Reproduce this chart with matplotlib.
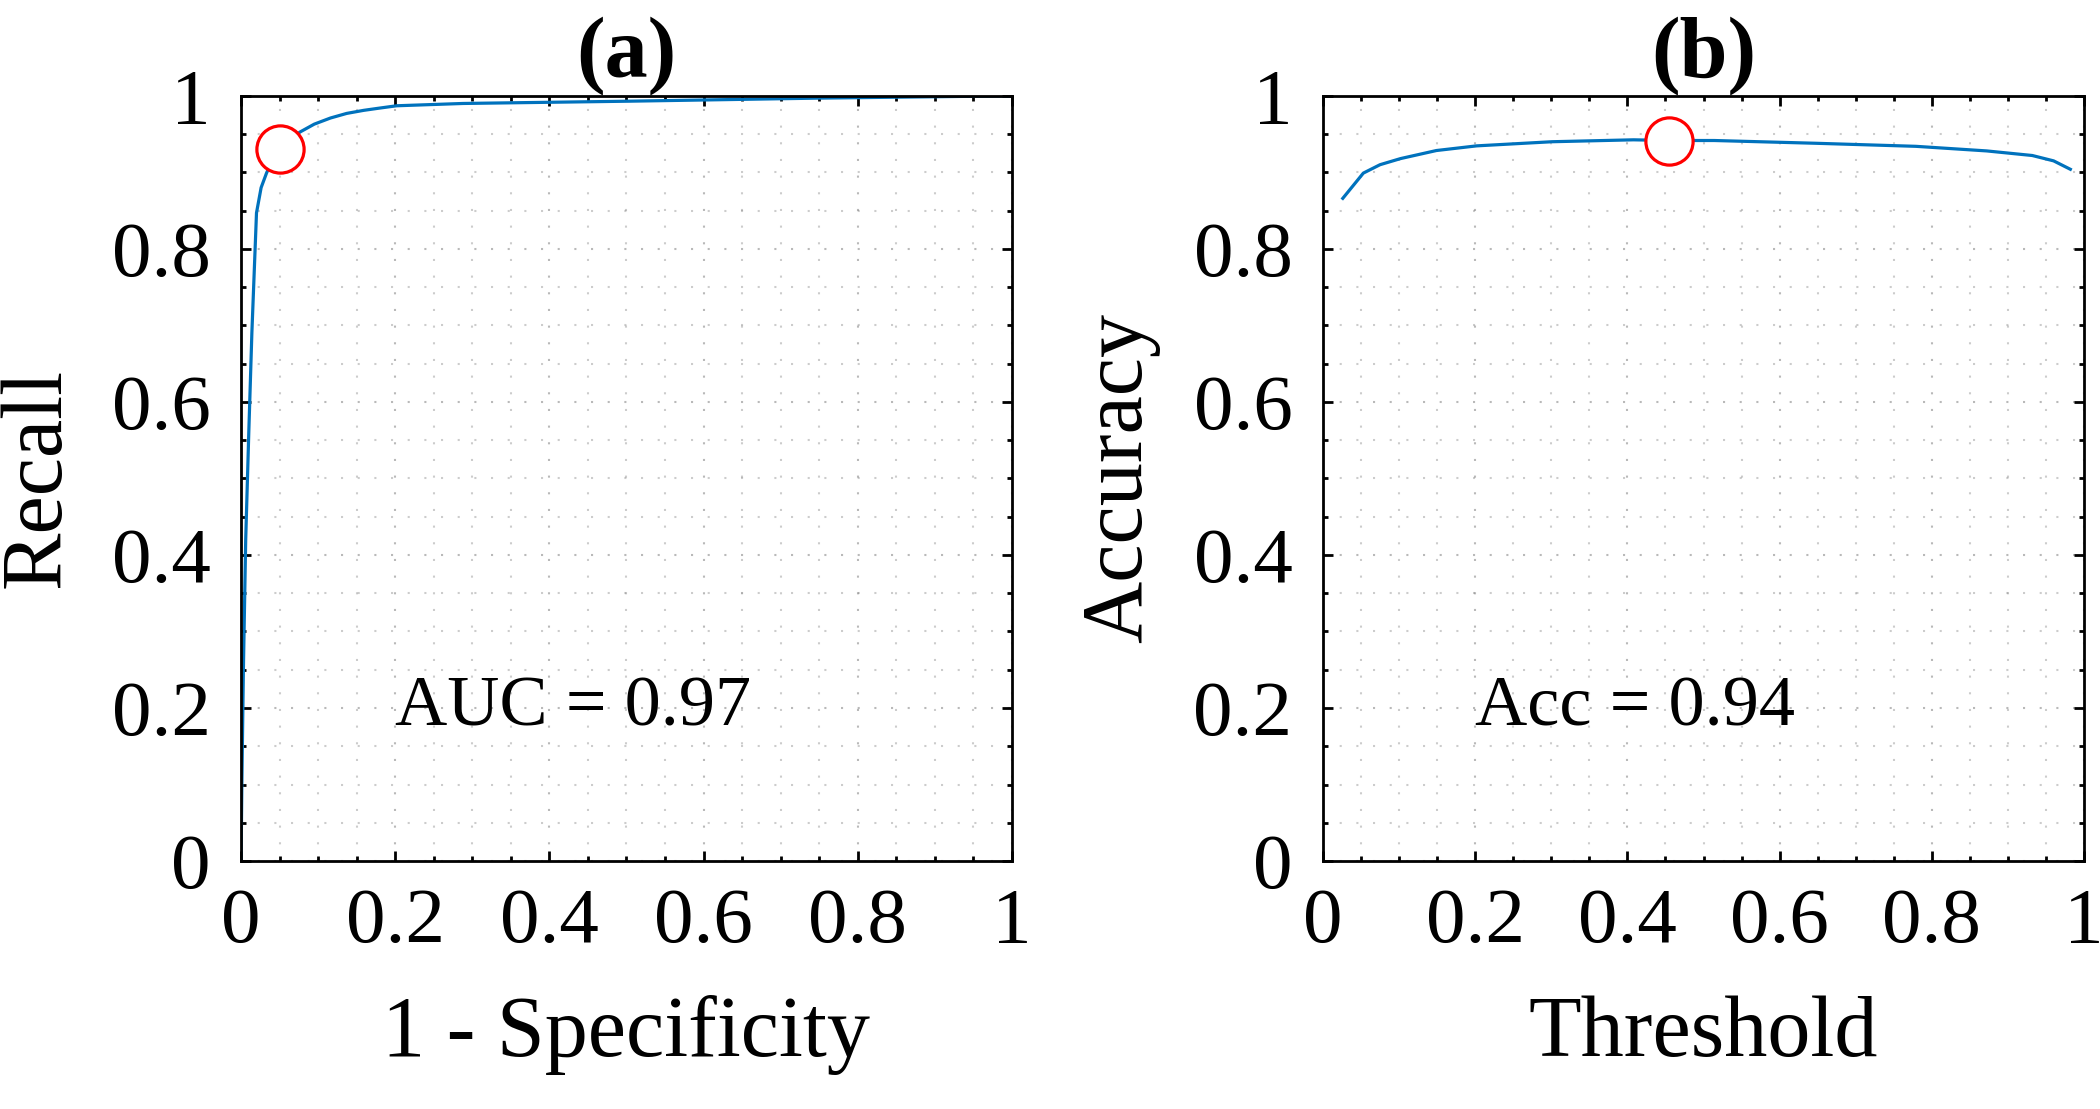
import matplotlib.pyplot as plt
import numpy as np

plt.rcParams['font.family'] = ['Liberation Serif', 'DejaVu Serif']

# (a) ROC curve
fpr = [0.0, 0.001, 0.003, 0.006, 0.010, 0.014, 0.020, 0.026, 0.033, 0.041, 0.050, 0.062, 0.077, 0.095, 0.116, 0.137, 0.159, 0.180, 0.202, 0.288, 0.505, 0.75, 1.0]
tpr = [0.0, 0.10, 0.25, 0.42, 0.56, 0.69, 0.847, 0.880, 0.899, 0.917, 0.930, 0.943, 0.953, 0.963, 0.971, 0.977, 0.981, 0.984, 0.987, 0.990, 0.993, 0.997, 1.0]
roc_best = (0.05, 0.93)
auc_text = "AUC = 0.97"

# (b) accuracy vs threshold
thr = [0.026, 0.053, 0.075, 0.102, 0.149, 0.202, 0.301, 0.408, 0.455, 0.514, 0.647, 0.779, 0.872, 0.932, 0.960, 0.982]
acc = [0.866, 0.899, 0.910, 0.918, 0.9285, 0.9346, 0.940, 0.9425, 0.9416, 0.9416, 0.938, 0.934, 0.928, 0.922, 0.915, 0.904]
acc_best = (0.455, 0.9416)
acc_text = "Acc = 0.94"

ticks = [0, 0.2, 0.4, 0.6, 0.8, 1]
tick_labels = ["0", "0.2", "0.4", "0.6", "0.8", "1"]

blue = (0, 0.447, 0.741)

fig = plt.figure(figsize=(21, 11.09), dpi=100)
ax1 = fig.add_axes([0.1148, 0.2236, 0.367, 0.690])
ax2 = fig.add_axes([0.630, 0.2236, 0.3624, 0.690])


def style(ax, title, xlabel, ylabel):
    ax.set_xlim(0, 1)
    ax.set_ylim(0, 1)
    ax.set_xticks(ticks)
    ax.set_xticklabels(tick_labels)
    ax.set_yticks(ticks)
    ax.set_yticklabels(tick_labels)
    ax.set_xticks(np.arange(0, 1.001, 0.05), minor=True)
    ax.set_yticks(np.arange(0, 1.001, 0.05), minor=True)
    ax.tick_params(which='both', direction='in', top=True, right=True, width=2)
    ax.tick_params(which='major', length=7, labelsize=57)
    ax.tick_params(axis='x', which='major', pad=19)
    ax.tick_params(axis='y', which='major', pad=22)
    ax.tick_params(which='minor', length=3.5)
    ax.grid(which='major', color='gray', alpha=0.55, linestyle=(0, (1, 7)), linewidth=1.5)
    ax.grid(which='minor', color='gray', alpha=0.4, linestyle=(0, (1, 7)), linewidth=1.5)
    for s in ax.spines.values():
        s.set_linewidth(2)
    ax.set_title(title, fontsize=62, fontweight='bold', pad=12)
    ax.set_xlabel(xlabel, fontsize=62, labelpad=26)
    ax.set_ylabel(ylabel, fontsize=62, labelpad=24)
    ax.set_axisbelow(True)


ax1.plot(fpr, tpr, color=blue, linewidth=2.3)
ax1.plot(*roc_best, 'o', markersize=34, markerfacecolor='white', markeredgecolor='red', markeredgewidth=2.3)
ax1.text(0.2, 0.2, auc_text, fontsize=52, va='center', ha='left')
style(ax1, "(a)", "1 - Specificity", "Recall")

ax2.plot(thr, acc, color=blue, linewidth=2.3)
ax2.plot(*acc_best, 'o', markersize=34, markerfacecolor='white', markeredgecolor='red', markeredgewidth=2.3)
ax2.text(0.2, 0.2, acc_text, fontsize=52, va='center', ha='left')
style(ax2, "(b)", "Threshold", "Accuracy")

fig.savefig("out.png", dpi=100)
